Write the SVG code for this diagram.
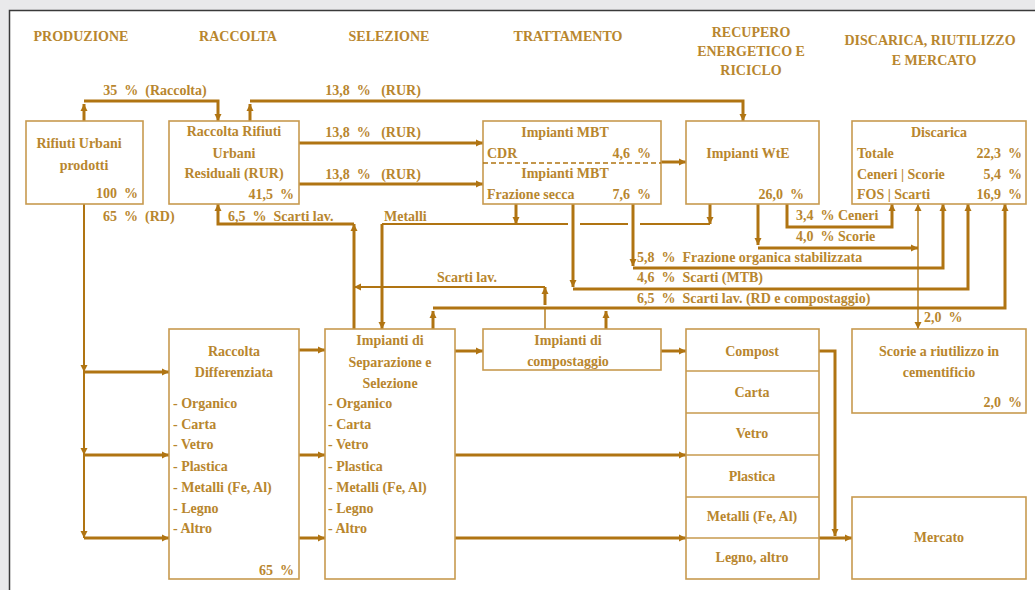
<svg xmlns="http://www.w3.org/2000/svg" width="1035" height="590" viewBox="0 0 1035 590">
<defs>
<marker id="ah" markerUnits="userSpaceOnUse" markerWidth="8" markerHeight="8" refX="7" refY="4" orient="auto"><path d="M0,0.5 L7,4 L0,7.5 z" fill="#b07412"/></marker>
<style>
text{font-family:"Liberation Serif","Times New Roman",serif;font-weight:bold;font-size:14px;fill:#b8862e;white-space:pre}
.m{text-anchor:middle}
.e{text-anchor:end}
.box{fill:#fff;stroke:#c79a4f;stroke-width:1.6}
.c{fill:none;stroke:#b07412;stroke-width:3}
.t{fill:none;stroke:#b07412;stroke-width:2}
.h{fill:none;stroke:#b07412;stroke-width:1.4}
.a{marker-end:url(#ah)}
</style>
</defs>
<rect width="1035" height="590" fill="#e9e9eb"/>
<rect x="9.5" y="10.5" width="1040" height="600" fill="#fff" stroke="#3a3a3a" stroke-width="1.5"/>

<g id="headers">
<text class="m" x="81" y="41">PRODUZIONE</text>
<text class="m" x="238" y="41">RACCOLTA</text>
<text class="m" x="389" y="41">SELEZIONE</text>
<text class="m" x="568" y="41">TRATTAMENTO</text>
<text class="m" x="751" y="37">RECUPERO</text>
<text class="m" x="751" y="56">ENERGETICO E</text>
<text class="m" x="751" y="75">RICICLO</text>
<text class="m" x="930" y="45">DISCARICA, RIUTILIZZO</text>
<text class="m" x="934" y="65">E MERCATO</text>
</g>

<g id="connectors">
<path class="c a" d="M84,121 V104"/>
<path class="c a" d="M84,101 H218 V121"/>
<path class="c a" d="M250,121 V104"/>
<path class="c a" d="M250,101 H743 V121"/>
<path class="c a" d="M299,143 H483"/>
<path class="c a" d="M299,184 H483"/>
<path class="c a" d="M661,162 H686"/>
<path class="t a" d="M84,204 V372"/>
<path class="t a" d="M84,372 V455"/>
<path class="t a" d="M84,455 V538"/>
<path class="c a" d="M84,372 H169"/>
<path class="c a" d="M84,455 H169"/>
<path class="c a" d="M84,538 H169"/>
<path class="c a" d="M299,350 H325"/>
<path class="c a" d="M299,455 H325"/>
<path class="c a" d="M299,538 H325"/>
<path class="c a" d="M455,351 H483"/>
<path class="c a" d="M455,455 H686"/>
<path class="c a" d="M455,538 H686"/>
<path class="c a" d="M661,351 H686"/>
<path class="c a" d="M819,351 H835 V536"/>
<path class="c a" d="M819,538 H852"/>
<path class="c a" d="M354,329 V224"/>
<path class="c a" d="M354,224 H218 V204"/>
<path class="h" d="M545,329 V308"/>
<path class="c a" d="M545,305 V287"/>
<path class="t a" d="M545,287 H354"/>
<path class="c a" d="M710,204 V224"/>
<path class="c a" d="M516,204 V224"/>
<path class="t" d="M710,224 H640 M628,224 H580 M568,224 H382"/>
<path class="c a" d="M382,224 V329"/>
<path class="c a" d="M633,204 V266"/>
<path class="c a" d="M633,268 H943 V204"/>
<path class="c a" d="M573,204 V287"/>
<path class="c a" d="M573,289 H968 V204"/>
<path class="c a" d="M787,204 V227 H892 V204"/>
<path class="c a" d="M758,204 V245"/>
<path class="c a" d="M758,248 H918"/>
<path class="h a" d="M918,248 V204"/>
<path class="h a" d="M918,248 V329"/>
<path class="c a" d="M433,329 V311"/>
<path class="c a" d="M606,329 V311"/>
<path class="c a" d="M433,308 H1005 V204"/>
</g>

<g id="labels">
<text class="m" x="155" y="95">35  %  (Raccolta)</text>
<text class="m" x="373" y="95">13,8  %   (RUR)</text>
<text class="m" x="373" y="137">13,8  %   (RUR)</text>
<text class="m" x="373" y="179">13,8  %   (RUR)</text>
<text x="103" y="221">65  %  (RD)</text>
<text x="228" y="221">6,5  %  Scarti lav.</text>
<text x="384" y="221">Metalli</text>
<text x="437" y="282">Scarti lav.</text>
<text x="796" y="220">3,4  % Ceneri</text>
<text x="796" y="241">4,0  % Scorie</text>
<text x="637" y="262">5,8  %  Frazione organica stabilizzata</text>
<text x="637" y="282">4,6  %  Scarti (MTB)</text>
<text x="637" y="303">6,5  %  Scarti lav. (RD e compostaggio)</text>
<text x="924" y="322">2,0  %</text>
</g>

<g id="rifiuti-urbani">
<rect class="box" x="26" y="121" width="117" height="83"/>
<text class="m" x="79" y="148">Rifiuti Urbani</text>
<text class="m" x="84" y="170">prodotti</text>
<text class="e" x="138" y="198">100  %</text>
</g>

<g id="raccolta-rur">
<rect class="box" x="169" y="121" width="130" height="83"/>
<text class="m" x="234" y="136">Raccolta Rifiuti</text>
<text class="m" x="234" y="158">Urbani</text>
<text class="m" x="234" y="178">Residuali (RUR)</text>
<text class="e" x="294" y="199">41,5  %</text>
</g>

<g id="impianti-mbt">
<rect class="box" x="483" y="121" width="178" height="83"/>
<line x1="483" y1="163" x2="661" y2="163" stroke="#b07412" stroke-width="1.4" stroke-dasharray="5,3"/>
<text class="m" x="565" y="137">Impianti MBT</text>
<text x="487" y="158">CDR</text>
<text class="e" x="651" y="158">4,6  %</text>
<text class="m" x="565" y="178">Impianti MBT</text>
<text x="487" y="199">Frazione secca</text>
<text class="e" x="651" y="199">7,6  %</text>
</g>

<g id="impianti-wte">
<rect class="box" x="686" y="121" width="133" height="83"/>
<text class="m" x="748" y="158">Impianti WtE</text>
<text class="e" x="804" y="199">26,0  %</text>
</g>

<g id="discarica">
<rect class="box" x="852" y="121" width="174" height="83"/>
<text class="m" x="939" y="137">Discarica</text>
<text x="857" y="158">Totale</text>
<text class="e" x="1022" y="158">22,3  %</text>
<text x="857" y="179">Ceneri | Scorie</text>
<text class="e" x="1022" y="179">5,4  %</text>
<text x="857" y="199">FOS | Scarti</text>
<text class="e" x="1022" y="199">16,9  %</text>
</g>

<g id="raccolta-differenziata">
<rect class="box" x="169" y="329" width="130" height="250"/>
<text class="m" x="234" y="356">Raccolta</text>
<text class="m" x="234" y="377">Differenziata</text>
<text x="173" y="408">- Organico</text>
<text x="173" y="429">- Carta</text>
<text x="173" y="449">- Vetro</text>
<text x="173" y="471">- Plastica</text>
<text x="173" y="492">- Metalli (Fe, Al)</text>
<text x="173" y="513">- Legno</text>
<text x="173" y="533">- Altro</text>
<text class="e" x="294" y="575">65  %</text>
</g>

<g id="separazione-selezione">
<rect class="box" x="325" y="329" width="130" height="250"/>
<text class="m" x="390" y="345">Impianti di</text>
<text class="m" x="390" y="367">Separazione e</text>
<text class="m" x="390" y="388">Selezione</text>
<text x="328" y="408">- Organico</text>
<text x="328" y="429">- Carta</text>
<text x="328" y="449">- Vetro</text>
<text x="328" y="471">- Plastica</text>
<text x="328" y="492">- Metalli (Fe, Al)</text>
<text x="328" y="513">- Legno</text>
<text x="328" y="533">- Altro</text>
</g>

<g id="compostaggio">
<rect class="box" x="483" y="329" width="178" height="41"/>
<text class="m" x="568" y="345">Impianti di</text>
<text class="m" x="568" y="366">compostaggio</text>
</g>

<g id="materiali">
<rect class="box" x="686" y="329" width="133" height="250"/>
<path d="M686,371 H819 M686,413 H819 M686,455 H819 M686,497 H819 M686,538 H819" stroke="#c79a4f" stroke-width="1.6" fill="none"/>
<text class="m" x="752" y="356">Compost</text>
<text class="m" x="752" y="397">Carta</text>
<text class="m" x="752" y="438">Vetro</text>
<text class="m" x="752" y="481">Plastica</text>
<text class="m" x="752" y="521">Metalli (Fe, Al)</text>
<text class="m" x="752" y="562">Legno, altro</text>
</g>

<g id="scorie-cementificio">
<rect class="box" x="852" y="329" width="174" height="84"/>
<text class="m" x="939" y="356">Scorie a riutilizzo in</text>
<text class="m" x="939" y="377">cementificio</text>
<text class="e" x="1022" y="407">2,0  %</text>
</g>

<g id="mercato">
<rect class="box" x="852" y="497" width="174" height="82"/>
<text class="m" x="939" y="542">Mercato</text>
</g>
</svg>
